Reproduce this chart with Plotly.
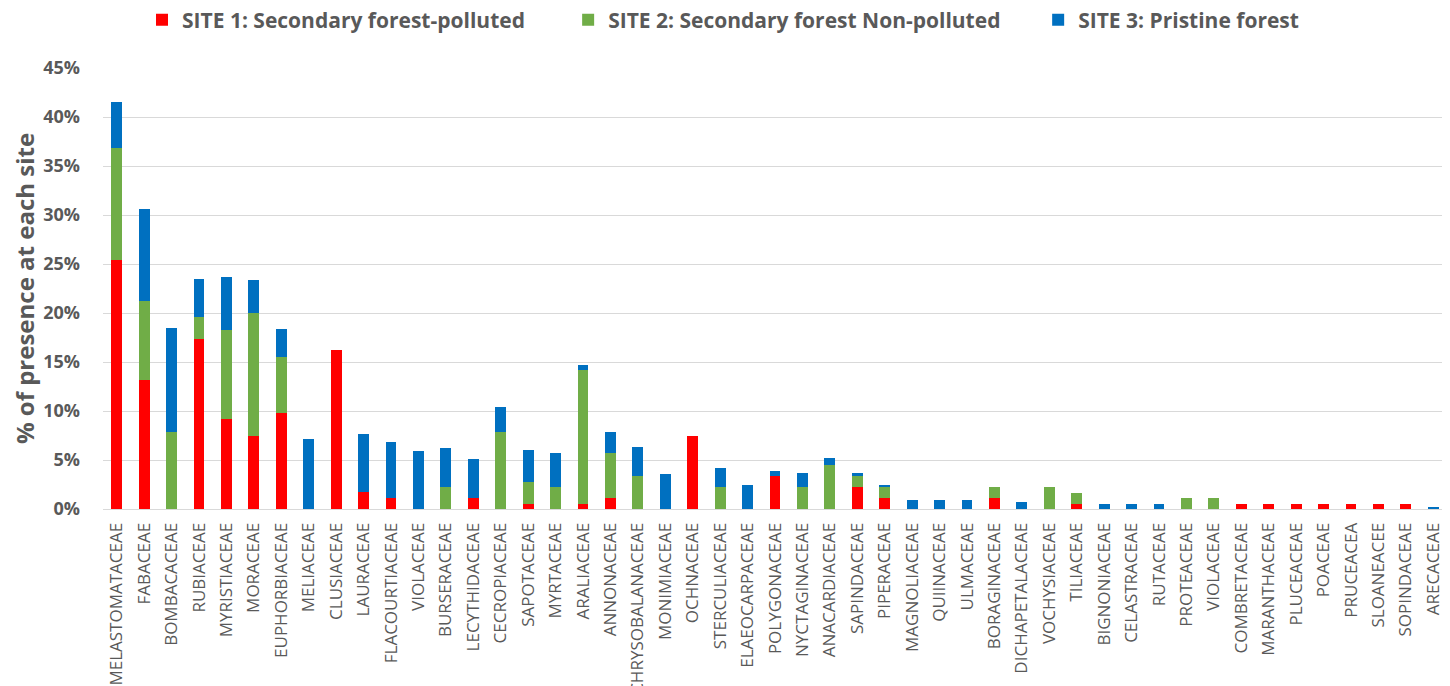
import plotly.graph_objects as go

families = ["MELASTOMATACEAE", "FABACEAE", "BOMBACACEAE", "RUBIACEAE", "MYRISTIACEAE", "MORACEAE",
            "EUPHORBIACEAE", "MELIACEAE", "CLUSIACEAE", "LAURACEAE", "FLACOURTIACEAE", "VIOLACEAE",
            "BURSERACEAE", "LECYTHIDACEAE", "CECROPIACEAE", "SAPOTACEAE", "MYRTACEAE", "ARALIACEAE",
            "ANNONACEAE", "CHRYSOBALANACEAE", "MONIMIACEAE", "OCHNACEAE", "STERCULIACEAE",
            "ELAEOCARPACEAE", "POLYGONACEAE", "NYCTAGINACEAE", "ANACARDIACEAE", "SAPINDACEAE",
            "PIPERACEAE", "MAGNOLIACEAE", "QUIINACEAE", "ULMACEAE", "BORAGINACEAE", "DICHAPETALACEAE",
            "VOCHYSIACEAE", "TILIACEAE", "BIGNONIACEAE", "CELASTRACEAE", "RUTACEAE", "PROTEACEAE",
            "VIOLACEAE", "COMBRETACEAE", "MARANTHACEAE", "PLUCEACEAE", "POACEAE", "PRUCEACEA",
            "SLOANEACEE", "SOPINDACEAE", "ARECACEAE"]

site1 = [25.4, 13.2, 0, 17.3, 9.2, 7.5, 9.8, 0, 16.2, 1.7, 1.1, 0,
         0, 1.1, 0, 0.55, 0, 0.55, 1.1, 0, 0, 7.5, 0,
         0, 3.4, 0, 0, 2.25, 1.1, 0, 0, 0, 1.1, 0,
         0, 0.55, 0, 0, 0, 0, 0, 0.55, 0.55, 0.55, 0.55, 0.55, 0.55, 0.55, 0]
site2 = [11.4, 8.0, 7.9, 2.3, 9.1, 12.5, 5.7, 0, 0, 0, 0, 0,
         2.2, 0, 7.9, 2.25, 2.2, 13.6, 4.6, 3.4, 0, 0, 2.2,
         0, 0, 2.2, 4.45, 1.1, 1.15, 0, 0, 0, 1.1, 0,
         2.2, 1.1, 0, 0, 0, 1.1, 1.1, 0, 0, 0, 0, 0, 0, 0, 0]
site3 = [4.7, 9.4, 10.6, 3.9, 5.4, 3.4, 2.9, 7.1, 0, 5.95, 5.7, 5.9,
         4.0, 4.0, 2.5, 3.2, 3.5, 0.55, 2.2, 2.9, 3.6, 0, 2.0,
         2.4, 0.5, 1.5, 0.75, 0.3, 0.25, 0.9, 0.9, 0.9, 0, 0.7,
         0, 0, 0.5, 0.5, 0.5, 0, 0, 0, 0, 0, 0, 0, 0, 0, 0.2]

series_names = ["SITE 1: Secondary forest-polluted", "SITE 2: Secondary forest Non-polluted",
                "SITE 3: Pristine forest"]
colors = ["#FF0000", "#70AD47", "#0070C0"]
y_ticks = [0, 5, 10, 15, 20, 25, 30, 35, 40, 45]

# page body has an 8px margin, so the figure is sized to fill the rest of the window
W, H = 1442, 678
xpos = list(range(len(families)))
# non-breaking spaces widen the gap between legend entries
legend_pad = ["\u00a0" * 7, "\u00a0" * 6, ""]

fig = go.Figure()
for name, vals, col, pad in zip(series_names, [site1, site2, site3], colors, legend_pad):
    fig.add_trace(go.Bar(x=xpos, y=vals, name=name + pad,
                         marker=dict(color=col, line=dict(width=0))))

fig.update_layout(
    barmode="stack",
    bargap=0.6,
    showlegend=True,
    width=W, height=H,
    margin=dict(l=95, r=3, t=60, b=177),
    plot_bgcolor="white", paper_bgcolor="white",
    font=dict(family="Open Sans", color="#595959"),
    legend=dict(orientation="h", yref="container", xref="container",
                yanchor="middle", xanchor="left", x=134 / W, y=1 - 12 / H,
                font=dict(size=21, color="#595959", weight="bold"),
                bgcolor="rgba(0,0,0,0)", traceorder="normal"),
    xaxis=dict(tickmode="array", tickvals=xpos, ticktext=families, tickangle=-90,
               range=[-0.5, len(families) - 0.5], automargin=False, ticklabelstandoff=6,
               tickfont=dict(size=17, color="#595959"),
               showline=True, linecolor="#d9d9d9", linewidth=1, ticks=""),
    yaxis=dict(range=[0, 45], tickvals=y_ticks, ticktext=[f"{v}%" for v in y_ticks],
               automargin=False, ticklabelstandoff=22,
               showgrid=True, gridcolor="#d9d9d9", gridwidth=1, zeroline=False,
               tickfont=dict(size=18, color="#595959", weight="bold"),
               title=dict(text="% of presence at each site", standoff=15,
                          font=dict(size=24, color="#595959", weight="bold"))),
)

fig.write_html("out.html")
